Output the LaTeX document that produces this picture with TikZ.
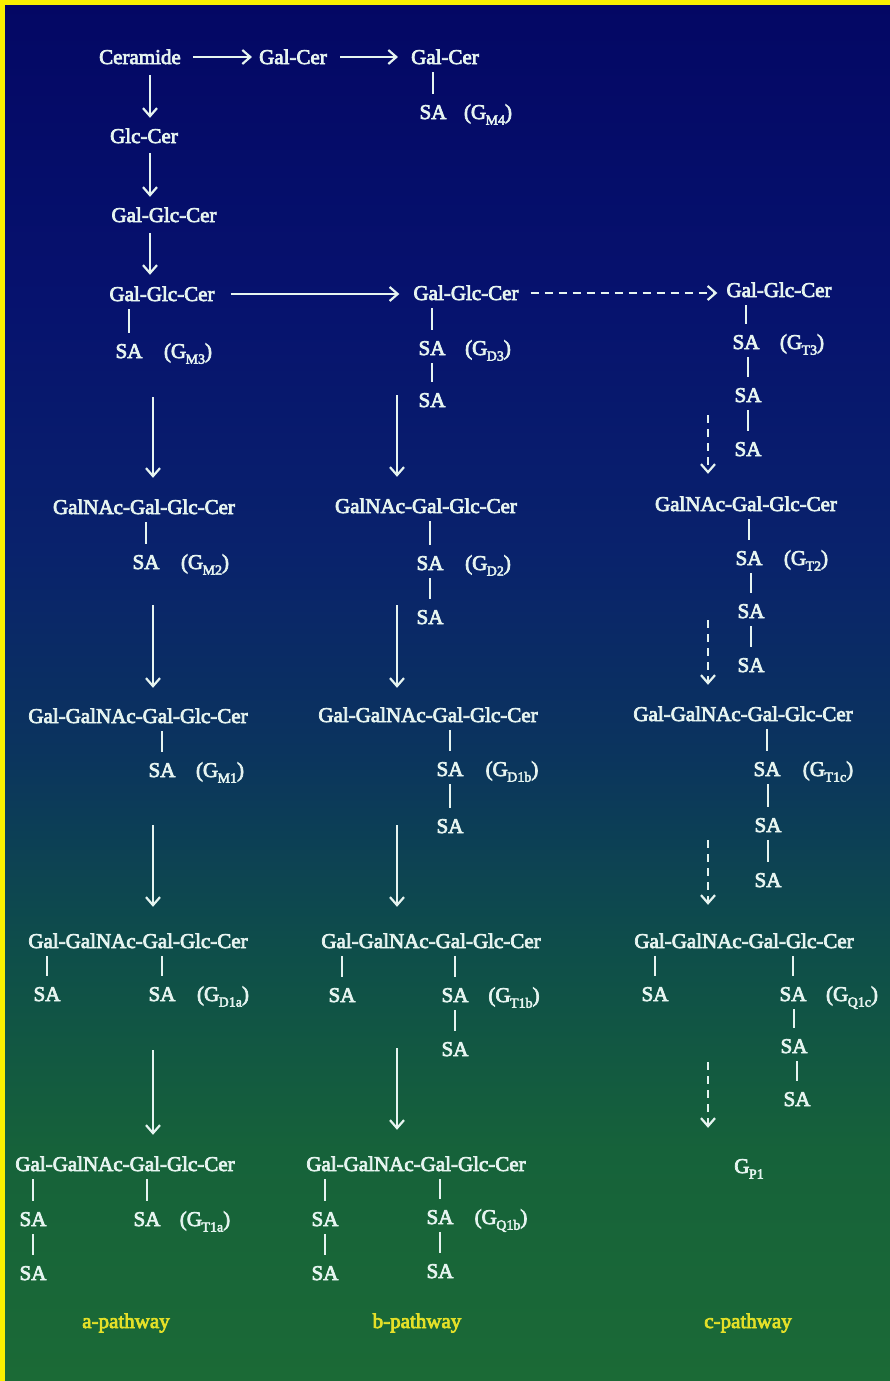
\documentclass[tikz,border=0pt]{standalone}
\usepackage{fontspec}
\usetikzlibrary{arrows.meta}
\newfontfamily\chemfont{Liberation Serif}[FakeBold=3.5]
\definecolor{txt}{RGB}{230,244,240}
\definecolor{pathlbl}{RGB}{228,224,40}
\definecolor{bgA}{RGB}{4,7,100}
\definecolor{bgB}{RGB}{6,18,110}
\definecolor{bgC}{RGB}{9,34,108}
\definecolor{bgD}{RGB}{11,52,94}
\definecolor{bgE}{RGB}{14,78,74}
\definecolor{bgF}{RGB}{22,98,58}
\definecolor{bgG}{RGB}{27,106,54}
\definecolor{frame}{RGB}{250,240,0}
% ganglioside symbol with subscript
\newcommand\gsub[1]{G\kern-0.5pt\raisebox{-0.27em}{\fontsize{14}{14}\selectfont #1}}
\newcommand\gang[1]{(\gsub{#1})}
\begin{document}
\begin{tikzpicture}[x=1pt,y=-1pt,
  chem/.style={text=txt, font=\chemfont\fontsize{21}{24}\selectfont, inner sep=0pt, text height=14pt, text depth=0pt},
  pathway/.style={text=pathlbl, font=\chemfont\fontsize{21}{24}\selectfont, inner sep=0pt, text height=14pt, text depth=0pt},
  bond/.style={draw=txt, line width=2.2pt, shorten <=8pt, shorten >=11pt},
  arr/.style={draw=txt, line width=2.2pt, -{Straight Barb[length=8pt,width=14pt]}},
  dsh/.style={dash pattern=on 8pt off 6pt}]
\useasboundingbox (0,0) rectangle (890,1381);
% background
\shade[top color=bgA, bottom color=bgB] (0,0) rectangle (890,300);
\shade[top color=bgB, bottom color=bgC] (0,300) rectangle (890,550);
\shade[top color=bgC, bottom color=bgD] (0,550) rectangle (890,750);
\shade[top color=bgD, bottom color=bgE] (0,750) rectangle (890,950);
\shade[top color=bgE, bottom color=bgF] (0,950) rectangle (890,1150);
\shade[top color=bgF, bottom color=bgG] (0,1150) rectangle (890,1381);
\fill[frame] (0,0) rectangle (890,5);
\fill[frame] (0,0) rectangle (5,1381);

% column guides for the vertical arrows
\coordinate (colAzero) at (150,0);
\coordinate (colA) at (153,0);
\coordinate (colB) at (397,0);
\coordinate (colC) at (708,0);

% top: ceramide and galactosyl branch
\node[chem] (cer) at (140,57) {Ceramide};
\node[chem] (galcer1) at (293,57) {Gal-Cer};
\node[chem] (galcer2) at (445,57) {Gal-Cer};
\node[chem] (sagm4) at (433,112) {SA};
\node[chem] (gm4) at (488,112) {\gang{M4}};
\node[chem] (glccer) at (144,136) {Glc-Cer};
\node[chem] (lac) at (164,215) {Gal-Glc-Cer};

% row 1
\node[chem] (gm3c) at (162,294) {Gal-Glc-Cer};
\node[chem] (gm3s) at (129,351) {SA};
\node[chem] (gm3) at (188,351) {\gang{M3}};
\node[chem] (gd3c) at (466,293) {Gal-Glc-Cer};
\node[chem] (gd3s1) at (432,348) {SA};
\node[chem] (gd3) at (488,348) {\gang{D3}};
\node[chem] (gd3s2) at (432,400) {SA};
\node[chem] (gt3c) at (779,290) {Gal-Glc-Cer};
\node[chem] (gt3s1) at (746,342) {SA};
\node[chem] (gt3) at (802,342) {\gang{T3}};
\node[chem] (gt3s2) at (748,395) {SA};
\node[chem] (gt3s3) at (748,449) {SA};

% row 2
\node[chem] (gm2c) at (144,507) {GalNAc-Gal-Glc-Cer};
\node[chem] (gm2s) at (146,562) {SA};
\node[chem] (gm2) at (205,562) {\gang{M2}};
\node[chem] (gd2c) at (426,506) {GalNAc-Gal-Glc-Cer};
\node[chem] (gd2s1) at (430,563) {SA};
\node[chem] (gd2) at (488,563) {\gang{D2}};
\node[chem] (gd2s2) at (430,617) {SA};
\node[chem] (gt2c) at (746,504) {GalNAc-Gal-Glc-Cer};
\node[chem] (gt2s1) at (749,558) {SA};
\node[chem] (gt2) at (806,558) {\gang{T2}};
\node[chem] (gt2s2) at (751,611) {SA};
\node[chem] (gt2s3) at (751,665) {SA};

% row 3
\node[chem] (gm1c) at (138,716) {Gal-GalNAc-Gal-Glc-Cer};
\node[chem] (gm1s) at (162,770) {SA};
\node[chem] (gm1) at (220,770) {\gang{M1}};
\node[chem] (gd1bc) at (428,715) {Gal-GalNAc-Gal-Glc-Cer};
\node[chem] (gd1bs1) at (450,769) {SA};
\node[chem] (gd1b) at (512,769) {\gang{D1b}};
\node[chem] (gd1bs2) at (450,826) {SA};
\node[chem] (gt1cc) at (743,714) {Gal-GalNAc-Gal-Glc-Cer};
\node[chem] (gt1cs1) at (767,769) {SA};
\node[chem] (gt1c) at (828,769) {\gang{T1c}};
\node[chem] (gt1cs2) at (768,825) {SA};
\node[chem] (gt1cs3) at (768,880) {SA};

% row 4
\node[chem] (gd1ac) at (138,941) {Gal-GalNAc-Gal-Glc-Cer};
\node[chem] (gd1as1) at (47,994) {SA};
\node[chem] (gd1as2) at (162,994) {SA};
\node[chem] (gd1a) at (223,994) {\gang{D1a}};
\node[chem] (gt1bc) at (431,941) {Gal-GalNAc-Gal-Glc-Cer};
\node[chem] (gt1bs1) at (342,995) {SA};
\node[chem] (gt1bs2) at (455,995) {SA};
\node[chem] (gt1b) at (514,995) {\gang{T1b}};
\node[chem] (gt1bs3) at (455,1049) {SA};
\node[chem] (gq1cc) at (744,941) {Gal-GalNAc-Gal-Glc-Cer};
\node[chem] (gq1cs1) at (655,994) {SA};
\node[chem] (gq1cs2) at (793,994) {SA};
\node[chem] (gq1c) at (852,994) {\gang{Q1c}};
\node[chem] (gq1cs3) at (794,1046) {SA};
\node[chem] (gq1cs4) at (797,1099) {SA};

% row 5
\node[chem] (gt1ac) at (125,1164) {Gal-GalNAc-Gal-Glc-Cer};
\node[chem] (gt1as1) at (33,1219) {SA};
\node[chem] (gt1as2) at (147,1219) {SA};
\node[chem] (gt1a) at (205,1219) {\gang{T1a}};
\node[chem] (gt1as3) at (33,1273) {SA};
\node[chem] (gq1bc) at (416,1164) {Gal-GalNAc-Gal-Glc-Cer};
\node[chem] (gq1bs1) at (325,1219) {SA};
\node[chem] (gq1bs2) at (440,1217) {SA};
\node[chem] (gq1b) at (501,1217) {\gang{Q1b}};
\node[chem] (gq1bs3) at (325,1273) {SA};
\node[chem] (gq1bs4) at (440,1271) {SA};
\node[chem] (gp1) at (749,1166) {\gsub{P1}};

% pathway names
\node[pathway] (apath) at (126,1321) {a-pathway};
\node[pathway] (bpath) at (417,1321) {b-pathway};
\node[pathway] (cpath) at (748,1321) {c-pathway};

% sialic acid bonds
\foreach \u/\l in {galcer2/sagm4, gm3c/gm3s, gd3c/gd3s1, gd3s1/gd3s2,
    gt3c/gt3s1, gt3s1/gt3s2, gt3s2/gt3s3,
    gm2c/gm2s, gd2c/gd2s1, gd2s1/gd2s2, gt2c/gt2s1, gt2s1/gt2s2, gt2s2/gt2s3,
    gm1c/gm1s, gd1bc/gd1bs1, gd1bs1/gd1bs2, gt1cc/gt1cs1, gt1cs1/gt1cs2, gt1cs2/gt1cs3,
    gd1ac/gd1as1, gd1ac/gd1as2, gt1bc/gt1bs1, gt1bc/gt1bs2, gt1bs2/gt1bs3,
    gq1cc/gq1cs1, gq1cc/gq1cs2, gq1cs2/gq1cs3, gq1cs3/gq1cs4,
    gt1ac/gt1as1, gt1as1/gt1as3, gt1ac/gt1as2,
    gq1bc/gq1bs1, gq1bs1/gq1bs3, gq1bc/gq1bs2, gq1bs2/gq1bs4}
  \draw[bond] (\u.south -| \l.north) -- (\l.north);

% horizontal steps
\draw[arr, shorten <=12pt, shorten >=7pt] (cer.east) -- (galcer1.west);
\draw[arr, shorten <=13pt, shorten >=13pt] (galcer1.east) -- (galcer2.west);
\draw[arr, shorten <=16pt, shorten >=14pt] (gm3c.east) -- (gm3c.east -| gd3c.west);
\draw[arr, dsh, shorten <=12pt, shorten >=9pt] (gd3c.east) -- (gd3c.east -| gt3c.west);

% lactosylceramide route
\draw[arr, shorten <=11pt, shorten >=11pt] (cer.south -| colAzero) -- (glccer.north -| colAzero);
\draw[arr, shorten <=10pt, shorten >=11pt] (glccer.south -| colAzero) -- (lac.north -| colAzero);
\draw[arr, shorten <=11pt, shorten >=12pt] (lac.south -| colAzero) -- (gm3c.north -| colAzero);

% a-pathway
\draw[arr, shorten <=96pt, shorten >=22pt] (gm3c.south -| colA) -- (gm2c.north -| colA);
\draw[arr, shorten <=91pt, shorten >=21pt] (gm2c.south -| colA) -- (gm1c.north -| colA);
\draw[arr, shorten <=102pt, shorten >=27pt] (gm1c.south -| colA) -- (gd1ac.north -| colA);
\draw[arr, shorten <=102pt, shorten >=22pt] (gd1ac.south -| colA) -- (gt1ac.north -| colA);

% b-pathway
\draw[arr, shorten <=95pt, shorten >=22pt] (gd3c.south -| colB) -- (gd2c.north -| colB);
\draw[arr, shorten <=92pt, shorten >=20pt] (gd2c.south -| colB) -- (gd1bc.north -| colB);
\draw[arr, shorten <=103pt, shorten >=27pt] (gd1bc.south -| colB) -- (gt1bc.north -| colB);
\draw[arr, shorten <=100pt, shorten >=27pt] (gt1bc.south -| colB) -- (gq1bc.north -| colB);

% c-pathway
\draw[arr, dsh, shorten <=118pt, shorten >=23pt] (gt3c.south -| colC) -- (gt2c.north -| colC);
\draw[arr, dsh, shorten <=109pt, shorten >=22pt] (gt2c.south -| colC) -- (gt1cc.north -| colC);
\draw[arr, dsh, shorten <=119pt, shorten >=29pt] (gt1cc.south -| colC) -- (gq1cc.north -| colC);
\draw[arr, dsh, shorten <=114pt, shorten >=31pt] (gq1cc.south -| colC) -- (gp1.north -| colC);
\end{tikzpicture}
\end{document}
